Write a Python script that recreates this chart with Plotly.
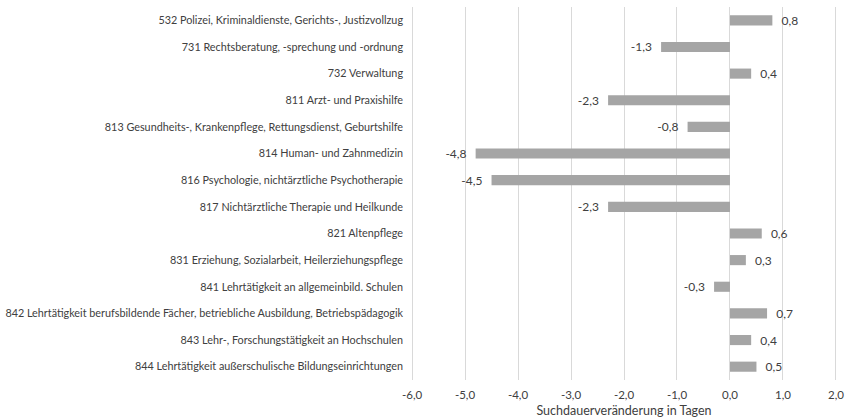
import plotly.graph_objects as go

categories = [
    "532 Polizei, Kriminaldienste, Gerichts-, Justizvollzug",
    "731 Rechtsberatung, -sprechung und -ordnung",
    "732 Verwaltung",
    "811 Arzt- und Praxishilfe",
    "813 Gesundheits-, Krankenpflege, Rettungsdienst, Geburtshilfe",
    "814 Human- und Zahnmedizin",
    "816 Psychologie, nichtärztliche Psychotherapie",
    "817 Nichtärztliche Therapie und Heilkunde",
    "821 Altenpflege",
    "831 Erziehung, Sozialarbeit, Heilerziehungspflege",
    "841 Lehrtätigkeit an allgemeinbild. Schulen",
    "842 Lehrtätigkeit berufsbildende Fächer, betriebliche Ausbildung, Betriebspädagogik",
    "843 Lehr-, Forschungstätigkeit an Hochschulen",
    "844 Lehrtätigkeit außerschulische Bildungseinrichtungen",
]
values = [0.8, -1.3, 0.4, -2.3, -0.8, -4.8, -4.5, -2.3, 0.6, 0.3, -0.3, 0.7, 0.4, 0.5]
tick_values = [-6, -5, -4, -3, -2, -1, 0, 1, 2]
tick_labels = ["-6,0", "-5,0", "-4,0", "-3,0", "-2,0", "-1,0", "0,0", "1,0", "2,0"]

# German decimal comma; non-breaking spaces keep the labels a little off the bar ends
NBSP = "\u00a0"
value_text = [
    (NBSP * 2 + f"{v:.1f}" if v >= 0 else f"{v:.1f}" + NBSP * 2).replace(".", ",")
    for v in values
]

font_family = "Lato, 'Open Sans', sans-serif"
text_color = "#404040"

fig = go.Figure(
    go.Bar(
        x=values,
        y=categories,
        orientation="h",
        marker=dict(color="#a5a5a5", line=dict(width=0)),
        width=0.38,
        text=value_text,
        textposition="outside",
        constraintext="none",
        textfont=dict(family=font_family, size=12, color=text_color),
        cliponaxis=False,
        hoverinfo="skip",
    )
)

fig.update_layout(
    width=850,
    height=420,
    margin=dict(l=411, r=13, t=7, b=40),
    paper_bgcolor="white",
    plot_bgcolor="white",
    showlegend=False,
    font=dict(family=font_family, size=11, color=text_color),
)

fig.update_xaxes(
    # tiny padding so the outer gridlines at -6 and 2 are drawn
    range=[-6.02, 2.02],
    tickvals=tick_values,
    ticktext=tick_labels,
    automargin=False,
    showgrid=True,
    gridcolor="#d9d9d9",
    gridwidth=1,
    zeroline=True,
    zerolinecolor="#d9d9d9",
    zerolinewidth=1,
    showline=False,
    ticks="",
    ticklabelstandoff=6,
    tickfont=dict(family=font_family, size=11.5, color=text_color),
    title=dict(
        text="Suchdauerveränderung in Tagen",
        font=dict(family=font_family, size=12.5, color=text_color),
        standoff=6,
    ),
)

fig.update_yaxes(
    categoryorder="array",
    categoryarray=categories[::-1],
    automargin=False,
    showgrid=False,
    showline=False,
    ticks="",
    ticklabelstandoff=7,
    tickfont=dict(family=font_family, size=10.8, color=text_color),
)

fig.write_html("out.html")
